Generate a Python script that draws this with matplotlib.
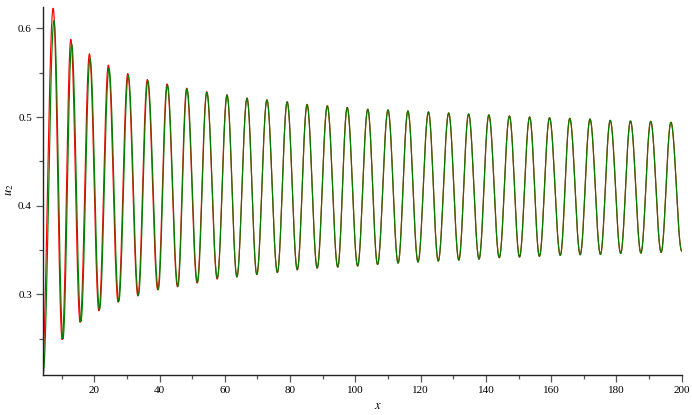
import numpy as np
import matplotlib
matplotlib.use("Agg")
import matplotlib.pyplot as plt
from matplotlib.ticker import MultipleLocator

# ---- extrema (green curve) ----
green_peak_x = [7.65, 13.07, 18.7, 24.5, 30.4, 36.4, 42.4, 48.4, 54.5, 60.7, 66.8, 72.9,
                79.1, 85.2, 91.4, 97.5, 103.8, 110.0, 116.1, 122.4, 128.6, 134.7, 140.9,
                147.2, 153.4, 159.5, 165.7, 171.9, 178.1, 184.3, 190.5, 196.7]
green_peak_y = [0.6087, 0.5823, 0.5660, 0.5547, 0.5468, 0.5408, 0.5362, 0.5317, 0.5279,
                0.5245, 0.5211, 0.5192, 0.5170, 0.5140, 0.5125, 0.5106, 0.5087, 0.5079,
                0.5068, 0.5056, 0.5045, 0.5034, 0.5023, 0.5011, 0.5000, 0.4992, 0.4985,
                0.4977, 0.4962, 0.4955, 0.4951, 0.4940]
green_trough_x = [4.3, 10.4, 15.9, 21.6, 27.5, 33.5, 39.6, 45.6, 51.6, 57.7, 63.7, 69.8,
                  76.1, 82.2, 88.3, 94.6, 100.7, 106.8, 113.1, 119.2, 125.4, 131.7, 137.9,
                  144.1, 150.3, 156.4, 162.8, 168.9, 175.1, 181.3, 187.5, 193.7, 200.0]
green_trough_y = [0.2100, 0.2500, 0.2695, 0.2827, 0.2921, 0.2989, 0.3056, 0.3090, 0.3132,
                  0.3184, 0.3199, 0.3226, 0.3248, 0.3278, 0.3297, 0.3308, 0.3320, 0.3338,
                  0.3353, 0.3365, 0.3376, 0.3387, 0.3398, 0.3414, 0.3421, 0.3429, 0.3440,
                  0.3447, 0.3451, 0.3462, 0.3466, 0.3474, 0.3490]

# ---- extrema (red curve) ----
red_peak_x = [7.40, 12.80, 18.50, 24.30, 30.25, 36.25, 42.30, 48.30, 54.45, 60.65, 66.8, 72.9,
              79.1, 85.2, 91.4, 97.5, 103.8, 110.0, 116.1, 122.4, 128.6, 134.7, 140.9,
              147.2, 153.4, 159.5, 165.7, 171.9, 178.1, 184.3, 190.5, 196.7]
red_peak_y = [0.6226, 0.5875, 0.5712, 0.5585, 0.5490, 0.5422, 0.5372, 0.5325, 0.5285,
              0.5252, 0.5215, 0.5195, 0.5172, 0.5143, 0.5127, 0.5108, 0.5089, 0.5080,
              0.5069, 0.5058, 0.5046, 0.5035, 0.5025, 0.5012, 0.5001, 0.4993, 0.4986,
              0.4978, 0.4963, 0.4956, 0.4952, 0.4941]
red_trough_x = [3.9, 10.15, 15.65, 21.4, 27.3, 33.35, 39.45, 45.5, 51.5, 57.65, 63.7, 69.8,
                76.1, 82.2, 88.3, 94.6, 100.7, 106.8, 113.1, 119.2, 125.4, 131.7, 137.9,
                144.1, 150.3, 156.4, 162.8, 168.9, 175.1, 181.3, 187.5, 193.7, 200.0]
red_trough_y = [0.2090, 0.2490, 0.2685, 0.2815, 0.2912, 0.2982, 0.3050, 0.3085, 0.3128,
                0.3172, 0.3196, 0.3223, 0.3246, 0.3276, 0.3296, 0.3307, 0.3319, 0.3337,
                0.3352, 0.3364, 0.3375, 0.3386, 0.3397, 0.3413, 0.3420, 0.3428, 0.3439,
                0.3446, 0.3450, 0.3461, 0.3465, 0.3473, 0.3489]

x_ticks = [20, 40, 60, 80, 100, 120, 140, 160, 180, 200]
y_ticks = [0.3, 0.4, 0.5, 0.6]


def trace(px, py, tx, ty, n=40):
    # join alternating troughs / peaks with smooth half-cosine arcs
    ex, ey = [tx[0]], [ty[0]]
    for i in range(len(px)):
        ex += [px[i], tx[i + 1]]
        ey += [py[i], ty[i + 1]]
    X, Y = [], []
    for i in range(len(ex) - 1):
        t = np.linspace(0, 1, n, endpoint=False)
        w = (1 - np.cos(np.pi * t)) / 2
        X.append(ex[i] + (ex[i + 1] - ex[i]) * t)
        Y.append(ey[i] + (ey[i + 1] - ey[i]) * w)
    X.append([ex[-1]])
    Y.append([ey[-1]])
    return np.concatenate(X), np.concatenate(Y)


plt.rcParams['mathtext.fontset'] = 'stix'
fig = plt.figure(figsize=(6.92, 4.15), dpi=100)
ax = fig.add_axes([43 / 692, 1 - 375 / 415, 638.7 / 692, (375 - 7.3) / 415])

rx, ry = trace(red_peak_x, red_peak_y, red_trough_x, red_trough_y)
gx, gy = trace(green_peak_x, green_peak_y, green_trough_x, green_trough_y)
ax.plot(rx, ry, color='#ff0000', lw=0.85)
ax.plot(gx, gy, color='#008000', lw=0.85)

ax.set_xlim(4.28, 200)
ax.set_ylim(0.2091, 0.6237)

for s in ['top', 'right']:
    ax.spines[s].set_visible(False)
for s in ['left', 'bottom']:
    ax.spines[s].set_linewidth(1.0)
    ax.spines[s].set_color('#222222')

ax.set_xticks(x_ticks)
ax.set_yticks(y_ticks)
ax.set_xticklabels([str(v) for v in x_ticks])
ax.set_yticklabels([str(v) for v in y_ticks])
ax.xaxis.set_minor_locator(MultipleLocator(10))
ax.yaxis.set_minor_locator(MultipleLocator(0.05))
ax.tick_params(which='major', direction='out', length=5, width=0.9, color='#555555',
               labelsize=8, pad=3)
ax.tick_params(which='minor', direction='out', length=3, width=0.9, color='#555555')
for lab in ax.get_xticklabels() + ax.get_yticklabels():
    lab.set_family('Liberation Serif')

ax.set_xlabel('$x$', fontsize=9)
ax.xaxis.set_label_coords(0.524, -0.065)
ax.set_ylabel('$u_2$', fontsize=9, rotation=90, va='center', ha='center')
ax.yaxis.set_label_coords(-0.052, 0.503)

fig.savefig('out.png', dpi=100)
